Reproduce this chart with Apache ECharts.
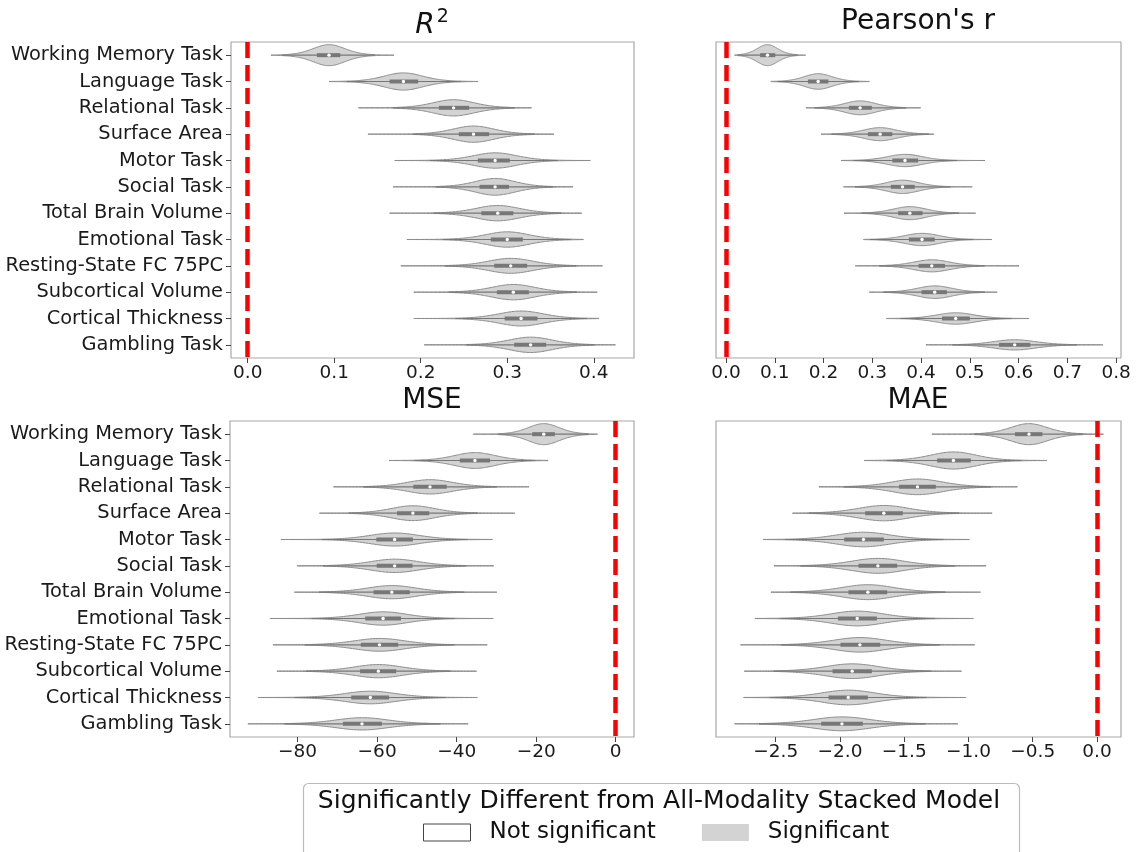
<!DOCTYPE html>
<html>
<head>
<meta charset="utf-8">
<script src="https://cdn.jsdelivr.net/npm/echarts@6.0.0/dist/echarts.min.js"></script>
<style>
html, body { margin: 0; padding: 0; background: #fff; }
#chart { width: 1137px; height: 852px; }
</style>
</head>
<body>
<div id="chart"></div>
<script>
const categories = [
  'Working Memory Task', 'Language Task', 'Relational Task', 'Surface Area',
  'Motor Task', 'Social Task', 'Total Brain Volume', 'Emotional Task',
  'Resting-State FC 75PC', 'Subcortical Volume', 'Cortical Thickness', 'Gambling Task'
]

// each row: [min, q1, median, q3, max]
const r2Stats = [
  [0.027, 0.080, 0.094, 0.107, 0.169],
  [0.094, 0.164, 0.180, 0.197, 0.266],
  [0.128, 0.221, 0.238, 0.256, 0.328],
  [0.139, 0.244, 0.261, 0.279, 0.354],
  [0.170, 0.266, 0.286, 0.303, 0.396],
  [0.168, 0.268, 0.286, 0.302, 0.376],
  [0.164, 0.270, 0.289, 0.307, 0.386],
  [0.184, 0.281, 0.300, 0.318, 0.388],
  [0.177, 0.285, 0.304, 0.323, 0.410],
  [0.192, 0.288, 0.307, 0.325, 0.404],
  [0.192, 0.297, 0.316, 0.335, 0.406],
  [0.204, 0.308, 0.327, 0.345, 0.425]
]

const pearsonStats = [
  [0.018, 0.070, 0.085, 0.101, 0.163],
  [0.092, 0.168, 0.189, 0.210, 0.294],
  [0.164, 0.252, 0.275, 0.299, 0.399],
  [0.195, 0.291, 0.316, 0.341, 0.426],
  [0.236, 0.341, 0.367, 0.394, 0.531],
  [0.241, 0.338, 0.362, 0.387, 0.505],
  [0.242, 0.353, 0.377, 0.403, 0.512],
  [0.282, 0.375, 0.402, 0.428, 0.545],
  [0.265, 0.395, 0.422, 0.449, 0.601],
  [0.294, 0.401, 0.428, 0.453, 0.556],
  [0.329, 0.443, 0.471, 0.500, 0.621],
  [0.410, 0.560, 0.592, 0.624, 0.773]
]

const mseStats = [
  [-35.8, -21.0, -18.1, -15.3, -4.6],
  [-57.0, -39.2, -35.4, -31.6, -17.0],
  [-71.0, -50.9, -46.7, -42.5, -21.8],
  [-74.5, -55.0, -51.0, -46.9, -25.4],
  [-84.2, -60.2, -55.6, -51.0, -31.0],
  [-80.1, -60.1, -55.6, -51.1, -30.7],
  [-80.8, -60.9, -56.3, -51.8, -29.9],
  [-86.9, -63.0, -58.5, -54.0, -30.8],
  [-86.2, -64.1, -59.4, -54.7, -32.3],
  [-85.2, -64.3, -59.7, -55.2, -35.0],
  [-89.9, -66.5, -61.7, -57.0, -34.8],
  [-92.5, -68.6, -63.8, -58.8, -37.1]
]

const maeStats = [
  [-1.285, -0.638, -0.529, -0.425, 0.049],
  [-1.812, -1.244, -1.117, -0.982, -0.391],
  [-2.164, -1.540, -1.397, -1.254, -0.619],
  [-2.369, -1.804, -1.659, -1.511, -0.816],
  [-2.597, -1.967, -1.817, -1.659, -0.993],
  [-2.514, -1.856, -1.705, -1.555, -0.863],
  [-2.537, -1.934, -1.783, -1.633, -0.907],
  [-2.662, -2.016, -1.866, -1.713, -0.962],
  [-2.774, -1.996, -1.845, -1.687, -0.951],
  [-2.745, -2.058, -1.905, -1.752, -1.055],
  [-2.750, -2.089, -1.936, -1.783, -1.021],
  [-2.820, -2.146, -1.985, -1.822, -1.083]
]

const r2Ticks = [0, 0.1, 0.2, 0.3, 0.4]
const pearsonTicks = [0, 0.1, 0.2, 0.3, 0.4, 0.5, 0.6, 0.7, 0.8]
const mseTicks = [-80, -60, -40, -20, 0]
const maeTicks = [-2.5, -2.0, -1.5, -1.0, -0.5, 0]

const FONT = 'DejaVu Sans'
const FILL = '#d3d3d3'
const EDGE = '#8a8a8a'
const INNER = '#777777'

// violin outline drawn from the quartiles, widths scaled by area like seaborn
function violinRenderer (stats) {
  const minIqr = Math.min(...stats.map(s => s[3] - s[1]))
  const nu = 10
  return function (params, api) {
    const cat = api.value(0)
    const lo = api.value(1)
    const q1 = api.value(2)
    const med = api.value(3)
    const q3 = api.value(4)
    const hi = api.value(5)
    const iqr = q3 - q1
    const sigma = iqr / 1.4
    const band = api.size([0, 1])[1]
    const peak = band * 0.4 * minIqr / iqr
    const top = []
    const bottom = []
    const steps = 140
    for (let k = 0; k <= steps; k++) {
      const v = lo + (hi - lo) * k / steps
      const z = (v - med) / sigma
      const h = peak * Math.pow(1 + z * z / nu, -(nu + 1) / 2)
      const p = api.coord([v, cat])
      top.push([p[0], p[1] - h])
      bottom.unshift([p[0], p[1] + h])
    }
    const wLo = api.coord([Math.max(lo, q1 - 1.5 * iqr), cat])
    const wHi = api.coord([Math.min(hi, q3 + 1.5 * iqr), cat])
    const b1 = api.coord([q1, cat])
    const b3 = api.coord([q3, cat])
    const m = api.coord([med, cat])
    return {
      type: 'group',
      children: [
        {
          type: 'polygon',
          shape: { points: top.concat(bottom) },
          style: { fill: FILL, stroke: EDGE, lineWidth: 1 }
        },
        {
          type: 'line',
          shape: { x1: wLo[0], y1: wLo[1], x2: wHi[0], y2: wHi[1] },
          style: { stroke: INNER, lineWidth: 1.2 }
        },
        {
          type: 'line',
          shape: { x1: b1[0], y1: b1[1], x2: b3[0], y2: b3[1] },
          style: { stroke: INNER, lineWidth: 4 }
        },
        {
          type: 'circle',
          shape: { cx: m[0], cy: m[1], r: 1.7 },
          style: { fill: '#ffffff' }
        }
      ]
    }
  }
}

const grids = [
  { left: 231, top: 42, width: 403, height: 316 },
  { left: 716, top: 42, width: 405, height: 316 },
  { left: 230, top: 421, width: 404, height: 316 },
  { left: 716, top: 421, width: 405, height: 316 }
]

const fmt1 = v => (v < 0 ? '\u2212' : '') + Math.abs(v).toFixed(1)
const fmt0 = v => (v < 0 ? '\u2212' : '') + Math.abs(v).toFixed(0)

function xAxisFor (idx, min, max, ticks, formatter) {
  return {
    type: 'value',
    gridIndex: idx,
    min: min,
    max: max,
    axisLine: { show: false, onZero: false },
    splitLine: { show: false },
    axisTick: { show: true, customValues: ticks, length: 5, lineStyle: { color: '#444' } },
    axisLabel: {
      customValues: ticks,
      formatter: formatter,
      margin: 6,
      fontSize: 18.5,
      color: '#1a1a1a',
      fontFamily: FONT
    }
  }
}

function yAxisFor (idx, showLabels) {
  return {
    type: 'category',
    gridIndex: idx,
    data: categories,
    inverse: true,
    axisLine: { show: false, onZero: false },
    axisTick: { show: showLabels, alignWithLabel: true, length: 5, lineStyle: { color: '#444' } },
    axisLabel: {
      show: showLabels,
      margin: 8,
      fontSize: 19.4,
      color: '#1a1a1a',
      fontFamily: FONT
    }
  }
}

const zeroLine = {
  silent: true,
  symbol: 'none',
  label: { show: false },
  lineStyle: { color: '#ff0000', width: 4.5, type: [16, 7] },
  data: [{ xAxis: 0 }]
}

function violinSeries (idx, stats) {
  return {
    type: 'custom',
    name: 'Significant',
    xAxisIndex: idx,
    yAxisIndex: idx,
    itemStyle: { color: FILL },
    renderItem: violinRenderer(stats),
    encode: { x: [1, 2, 3, 4, 5], y: 0 },
    data: stats.map((s, i) => [i].concat(s)),
    markLine: zeroLine,
    z: 2
  }
}

const titleStyle = { fontSize: 28, color: '#111', fontFamily: FONT, fontWeight: 'normal' }

const chart = echarts.init(document.getElementById('chart'))
chart.setOption({
  animation: false,
  textStyle: { fontFamily: FONT },
  title: [
    {
      text: '{i|R}{s|2}',
      left: 432,
      top: 8,
      padding: 0,
      textAlign: 'center',
      textStyle: {
        fontWeight: 'normal',
        rich: {
          i: { fontSize: 28, fontStyle: 'italic', fontWeight: 'normal', fontFamily: FONT, color: '#111', lineHeight: 32, verticalAlign: 'bottom' },
          s: { fontSize: 19, fontWeight: 'normal', fontFamily: FONT, color: '#111', lineHeight: 32, verticalAlign: 'top', padding: [0, 0, 0, 2] }
        }
      }
    },
    { text: "Pearson's r", left: 918, top: 8, padding: 0, textAlign: 'center', textStyle: titleStyle },
    { text: 'MSE', left: 432, top: 387, padding: 0, textAlign: 'center', textStyle: titleStyle },
    { text: 'MAE', left: 918, top: 387, padding: 0, textAlign: 'center', textStyle: titleStyle },
    {
      text: 'Significantly Different from All-Modality Stacked Model',
      left: 659,
      top: 789,
      padding: 0,
      textAlign: 'center',
      textStyle: { fontSize: 25, color: '#111', fontFamily: FONT, fontWeight: 'normal' }
    }
  ],
  legend: {
    left: 423,
    top: 821,
    padding: 0,
    icon: 'rect',
    itemWidth: 47,
    itemHeight: 17,
    itemGap: 46,
    selectedMode: false,
    textStyle: { fontSize: 23, color: '#111', fontFamily: FONT, padding: [0, 0, 0, 14] },
    data: [
      { name: 'Not significant', itemStyle: { color: '#ffffff', borderColor: '#444', borderWidth: 1 } },
      { name: 'Significant', itemStyle: { color: FILL, borderWidth: 0 } }
    ]
  },
  graphic: [
    {
      type: 'rect',
      left: 301,
      top: 781,
      shape: { width: 716, height: 90, r: 5 },
      style: { fill: 'none', stroke: '#bbbbbb', lineWidth: 1.2 },
      silent: true
    }
  ],
  grid: grids.map(g => Object.assign({ show: true, borderColor: '#a8a8a8', borderWidth: 1.2, backgroundColor: 'transparent' }, g)),
  xAxis: [
    xAxisFor(0, -0.0193, 0.4465, r2Ticks, fmt1),
    xAxisFor(1, -0.0205, 0.810, pearsonTicks, fmt1),
    xAxisFor(2, -97.0, 4.6, mseTicks, fmt0),
    xAxisFor(3, -2.965, 0.187, maeTicks, fmt1)
  ],
  yAxis: [
    yAxisFor(0, true),
    yAxisFor(1, false),
    yAxisFor(2, true),
    yAxisFor(3, false)
  ],
  series: [
    violinSeries(0, r2Stats),
    violinSeries(1, pearsonStats),
    violinSeries(2, mseStats),
    violinSeries(3, maeStats),
    {
      type: 'custom',
      name: 'Not significant',
      xAxisIndex: 0,
      yAxisIndex: 0,
      itemStyle: { color: '#ffffff' },
      renderItem: () => null,
      data: []
    }
  ]
})
</script>
</body>
</html>
